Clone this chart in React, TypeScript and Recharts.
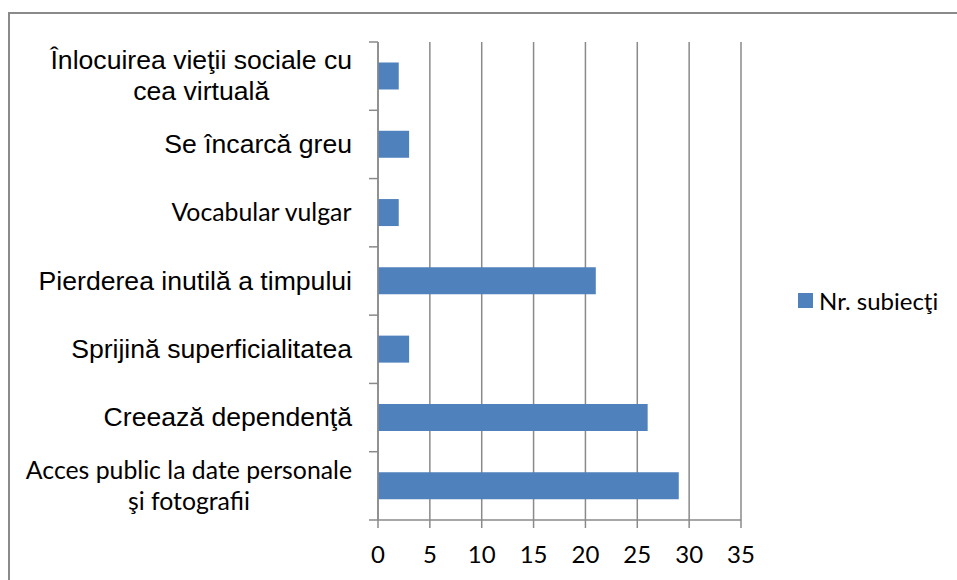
import { BarChart, Bar, XAxis, YAxis, CartesianGrid, Legend } from 'recharts'

const categories = [
  'Înlocuirea vieţii sociale cu\ncea virtuală',
  'Se încarcă greu',
  'Vocabular vulgar',
  'Pierderea inutilă a timpului',
  'Sprijină superficialitatea',
  'Creează dependenţă',
  'Acces public la date personale\nşi fotografii',
]
const subjects = [2, 3, 2, 21, 3, 26, 29]
const xTicks = [0, 5, 10, 15, 20, 25, 30, 35]
const seriesName = 'Nr. subiecţi'

// labels that the source document set in Calibri instead of Arial
const calibriLabels = new Set(['Vocabular vulgar', 'Acces public la date personale\nşi fotografii'])

const data = categories.map((category, i) => ({ category, value: subjects[i] }))

const ARIAL = "'Liberation Sans', Arial, sans-serif"
const CALIBRI = "Lato, Carlito, sans-serif"
const GRID = '#8a8a8a'
const BLUE = '#4f81bd'

let ctx: CanvasRenderingContext2D | null = null
function measure(text: string, font: string) {
  if (!ctx) ctx = document.createElement('canvas').getContext('2d')
  if (!ctx) return text.length * 12
  ctx.font = font
  return ctx.measureText(text).width
}

function CategoryTick(props: any) {
  const { x, y, payload, index, visibleTicksCount } = props
  const off = payload.offset ?? 0
  const lines = String(payload.value).split('\n')
  const calibri = calibriLabels.has(payload.value)
  const family = calibri ? CALIBRI : ARIAL
  const size = calibri ? 24.8 : 26.6
  const widths = lines.map((l) => measure(l, `${size}px ${family}`))
  const block = Math.max(...widths)
  const cx = x - 26 - block / 2
  const lh = 31
  const base = y + 8.5 - ((lines.length - 1) * lh) / 2
  return (
    <g>
      <line x1={x - 9} x2={x} y1={y - off} y2={y - off} stroke={GRID} strokeWidth={1.5} />
      {index === visibleTicksCount - 1 && (
        <line x1={x - 9} x2={x} y1={y + off} y2={y + off} stroke={GRID} strokeWidth={1.5} />
      )}
      {lines.map((l, i) => (
        <text key={i} x={cx} y={base + i * lh} textAnchor="middle" fontFamily={family} fontSize={size} fill="#000">
          {l}
        </text>
      ))}
    </g>
  )
}

function LegendBox() {
  return (
    <div style={{ display: 'flex', alignItems: 'center', fontFamily: CALIBRI, fontSize: 24, color: '#000', whiteSpace: 'nowrap' }}>
      <span style={{ width: 15, height: 15, background: BLUE, marginRight: 6, display: 'inline-block' }} />
      {seriesName}
    </div>
  )
}

export default function App() {
  return (
    <div style={{ position: 'absolute', left: 0, top: 0, width: 957, height: 580, overflow: 'hidden', background: '#fff' }}>
      <div
        style={{
          position: 'absolute',
          left: 8,
          top: 12,
          width: 1000,
          height: 1000,
          borderLeft: `2px solid ${GRID}`,
          borderTop: `2px solid ${GRID}`,
        }}
      />
      <div style={{ position: 'absolute', left: 0, top: 0 }}>
        <BarChart
          width={957}
          height={580}
          data={data}
          layout="vertical"
          margin={{ top: 42, right: 216, bottom: 0, left: 0 }}
          barCategoryGap="30%"
        >
          <CartesianGrid horizontal={false} stroke={GRID} strokeWidth={1.5} />
          <XAxis
            type="number"
            domain={[0, 35]}
            ticks={xTicks}
            height={60}
            tickSize={8}
            tickMargin={18}
            stroke={GRID}
            strokeWidth={1.5}
            tick={{ fill: '#000', fontSize: 24, fontFamily: CALIBRI }}
          />
          <YAxis
            type="category"
            dataKey="category"
            width={378}
            tickLine={false}
            tickSize={0}
            tickMargin={0}
            interval={0}
            stroke={GRID}
            strokeWidth={1.5}
            tick={<CategoryTick />}
          />
          <Legend
            align="center"
            verticalAlign="middle"
            layout="horizontal"
            wrapperStyle={{ left: 798, top: 286, width: 'auto' }}
            content={() => <LegendBox />}
          />
          <Bar dataKey="value" name={seriesName} fill={BLUE} isAnimationActive={false} />
        </BarChart>
      </div>
    </div>
  )
}
